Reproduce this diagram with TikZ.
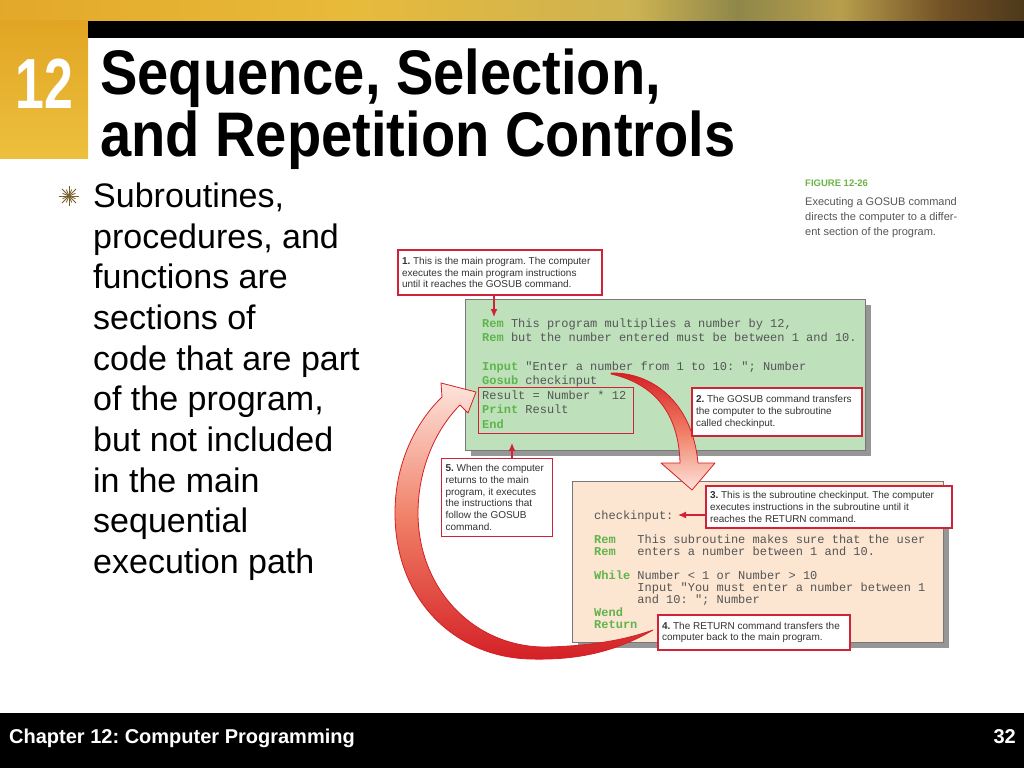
\documentclass[tikz,border=0pt]{standalone}
\usepackage{graphicx}
\usepackage{fontspec}
\setmainfont{Liberation Sans}
\newfontfamily\codefont{Liberation Mono}
\usetikzlibrary{arrows.meta,shadows}

\definecolor{calloutred}{RGB}{208,35,58}
\definecolor{calltext}{RGB}{51,51,51}
\definecolor{arrowred}{RGB}{212,32,38}
\definecolor{arrowmid}{RGB}{240,125,100}
\definecolor{arrowpale}{RGB}{253,228,220}
\definecolor{maingreen}{RGB}{190,225,188}
\definecolor{subpeach}{RGB}{252,230,210}
\definecolor{boxgray}{RGB}{120,120,120}
\definecolor{shadowgray}{RGB}{150,150,150}
\definecolor{codegray}{RGB}{85,85,85}
\definecolor{kwgreen}{RGB}{95,180,75}
\definecolor{figgreen}{RGB}{108,180,70}
\definecolor{captiongray}{RGB}{85,85,85}
\definecolor{starcolor}{RGB}{120,95,45}
\definecolor{goldtop}{RGB}{225,165,35}
\definecolor{goldbottom}{RGB}{236,192,62}

\pgfdeclarehorizontalshading{topband}{100bp}{rgb(0bp)=(0.89,0.66,0.16); rgb(25bp)=(0.89,0.66,0.16); rgb(42bp)=(0.91,0.73,0.23); rgb(56bp)=(0.80,0.70,0.32); rgb(61bp)=(0.56,0.53,0.29); rgb(66bp)=(0.72,0.62,0.30); rgb(71bp)=(0.45,0.32,0.15); rgb(75bp)=(0.30,0.22,0.10); rgb(100bp)=(0.30,0.22,0.10)}

\newcommand\kw[1]{\textcolor{kwgreen}{\bfseries #1}}
\newcommand\headfont{\fontsize{63}{70}\selectfont\bfseries}

\begin{document}
\frenchspacing
\begin{tikzpicture}[x=1pt,y=-1pt,
    every node/.append style={execute at begin node={\spaceskip=0pt\xspaceskip=0pt\relax}},
    callout/.style={draw=calloutred, line width=1.2pt, fill=white, align=flush left,
      inner xsep=4pt, inner ysep=2pt, text=calltext, font=\fontsize{10}{11.8}\selectfont},
    codeline/.style={anchor=base west, inner sep=0pt, align=flush left, text=codegray,
      font=\codefont\fontsize{12}{#1}\selectfont},
    codebox/.style={draw=boxgray, line width=0.8pt, inner sep=0pt, anchor=north west,
      drop shadow={shadow xshift=6pt, shadow yshift=-6pt, fill=shadowgray, opacity=1}},
    pointer/.style={draw=calloutred, line width=1.2pt, -{Latex[length=8pt,width=7pt]}},
    bigarrow/.style={draw=arrowred, line width=0.8pt, line join=round}]
  \useasboundingbox (0,0) rectangle (1024,768);

  % header band
  \shade[shading=topband] (0,0) rectangle (1024,21);
  \shade[top color=goldtop, bottom color=goldbottom] (0,21) rectangle (88,158);
  \fill[black] (88,21) rectangle (1024,38);
  \node[anchor=base, inner sep=0pt, text=white, font=\fontsize{71}{71}\selectfont\bfseries] (chapnum) at (44.5,108) {\scalebox{0.73}[1]{12}};
  \node[anchor=base west, inner sep=0pt, font=\headfont] (title1) at (100,94) {\scalebox{0.89}[1]{Sequence, Selection,}};
  \node[anchor=base west, inner sep=0pt, font=\headfont] (title2) at (100,156) {\scalebox{0.89}[1]{and Repetition Controls}};

  % bullet
  \foreach \a in {0,45,...,315}
    \draw[starcolor, line width=1pt] (69,196) -- ++(\a:10);
  \foreach \a in {22.5,67.5,...,337.5}
    \draw[starcolor, line width=0.8pt] (69,196) -- ++(\a:7);
  \node[anchor=base west, inner sep=0pt, text width=290pt, align=flush left, font=\fontsize{34}{40.7}\selectfont] (bullet) at (93,207.3)
    {Subroutines,\\ procedures, and\\ functions are\\ sections of\\ code that are part\\ of the program,\\ but not included\\ in the main\\ sequential\\ execution path};

  % figure caption
  \node[anchor=base west, inner sep=0pt, text=figgreen, font=\fontsize{9.5}{11}\selectfont\bfseries] (figlabel) at (805,186) {FIGURE 12-26};
  \node[anchor=base west, inner sep=0pt, text width=170pt, align=flush left, text=captiongray, font=\fontsize{11}{15}\selectfont] (figcaption) at (805,205)
    {Executing a GOSUB command\\ directs the computer to a differ-\\ ent section of the program.};

  % code boxes
  \node[codebox, fill=maingreen, minimum width=400pt, minimum height=151pt] (mainbox) at (465,299) {};
  \node[codebox, fill=subpeach, minimum width=371pt, minimum height=161pt] (subbox) at (572,481) {};

  \node[codeline=14.45, text width=390pt] (maincode) at (482,327)
    {\kw{Rem} This program multiplies a number by 12,\\
     \kw{Rem} but the number entered must be between 1 and 10.\\
     ~\\
     \kw{Input} "Enter a number from 1 to 10: "; Number\\
     \kw{Gosub} checkinput\\
     Result = Number * 12\\
     \kw{Print} Result\\
     \kw{End}};
  \node[codeline=12.14, text width=345pt] (subcode) at (594,519)
    {checkinput:\\
     ~\\
     \kw{Rem}\ \ \ This subroutine makes sure that the user\\
     \kw{Rem}\ \ \ enters a number between 1 and 10.\\
     ~\\
     \kw{While} Number < 1 or Number > 10\\
     \phantom{While} Input "You must enter a number between 1\\
     \phantom{While} and 10: "; Number\\
     \kw{Wend}\\
     \kw{Return}};
  \node[draw=calloutred, line width=1.2pt, minimum width=155pt, minimum height=46pt, inner sep=0pt, anchor=north west] (afterbox) at (478,387) {};

  % big arrows
  \path[bigarrow, top color=arrowred, bottom color=arrowpale, middle color=arrowmid]
    (611,373) .. controls (650,372) and (692,400) .. (698,463)
    -- (715,463) -- (692,490) -- (661,463) -- (680,463)
    .. controls (679,420) and (660,385) .. (611,374) -- cycle;
  \path[bigarrow, bottom color=arrowred, top color=arrowpale, middle color=arrowmid]
    (653,630) .. controls (610,655) and (570,660) .. (530,659)
    .. controls (455,657) and (395,600) .. (395,513)
    .. controls (395,460) and (418,420) .. (442,397)
    -- (441,383) -- (476,392) -- (468,413) -- (460,405)
    .. controls (435,430) and (418,470) .. (418,513)
    .. controls (418,590) and (475,648) .. (547,647)
    .. controls (590,646) and (625,640) .. (653,630) -- cycle;

  % callouts
  \node[callout, text width=196pt, minimum height=45pt] (c1) at (500,272.5)
    {\textbf{1.} This is the main program. The computer\\ executes the main program instructions\\ until it reaches the GOSUB command.};
  \node[callout, text width=162pt, minimum height=48pt] (c2) at (777,412)
    {\textbf{2.} The GOSUB command transfers\\ the computer to the subroutine\\ called checkinput.};
  \node[callout, text width=238pt, minimum height=42pt] (c3) at (829,507)
    {\textbf{3.} This is the subroutine checkinput. The computer\\ executes instructions in the subroutine until it\\ reaches the RETURN command.};
  \node[callout, text width=184pt, minimum height=35pt] (c4) at (754,632.5)
    {\textbf{4.} The RETURN command transfers the\\ computer back to the main program.};
  \node[callout, text width=103pt, minimum height=78pt] (c5) at (497,497.5)
    {\textbf{5.} When the computer\\ returns to the main\\ program, it executes\\ the instructions that\\ follow the GOSUB\\ command.};

  \coordinate (p1) at (494,317);
  \coordinate (p3) at (678,515);
  \coordinate (p5) at (512,443);
  \draw[pointer] (c1.south -| p1) -- (p1);
  \draw[pointer] (c3.west |- p3) -- (p3);
  \draw[pointer] (c5.north -| p5) -- (p5);

  % footer
  \fill[black] (0,713) rectangle (1024,768);
  \node[anchor=base west, inner sep=0pt, text=white, font=\fontsize{20}{24}\selectfont\bfseries] (footer) at (9,743) {Chapter 12: Computer Programming};
  \node[anchor=base east, inner sep=0pt, text=white, font=\fontsize{20}{24}\selectfont\bfseries] (pagenum) at (1016,743) {32};
\end{tikzpicture}
\end{document}
